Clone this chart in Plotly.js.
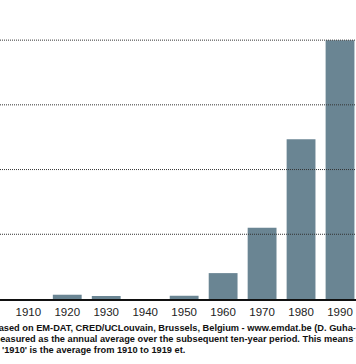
<!DOCTYPE html>
<html>
<head>
<meta charset="utf-8">
<script src="https://cdn.plot.ly/plotly-3.0.1.min.js"></script>
<style>html,body{margin:0;padding:0;background:#fff;}#chart{width:356px;height:364px;}</style>
</head>
<body>
<div id="chart"></div>
<script>
// Data (units = one gridline step)
const decades = [1910, 1920, 1930, 1940, 1950, 1960, 1970, 1980, 1990];
const values  = [0, 0.066, 0.046, 0, 0.05, 0.40, 1.10, 2.47, 4.0];
const tickLabels = ['1910','1920','1930','1940','1950','1960','1970','1980','1990'];
const gridValues = [1, 2, 3, 4];
const sourceLines = [
  "Based on EM-DAT, CRED/UCLouvain, Brussels, Belgium - www.emdat.be (D. Guha-Sapir)",
  "measured as the annual average over the subsequent ten-year period. This means that the figure for",
  "'1910' is the average from 1910 to 1919 et."
];

const font = 'Liberation Sans, Arial, Helvetica, sans-serif';

const trace = {
  type: 'bar',
  x: decades,
  y: values,
  width: 7.4,
  marker: {color: '#6a8593', line: {width: 0}},
  hoverinfo: 'none'
};

const shapes = gridValues.map(v => ({
  type: 'line', xref: 'paper', yref: 'y', x0: 0, x1: 1, y0: v, y1: v,
  layer: 'above',
  line: {color: '#333333', width: 1, dash: '1px,1px'}
}));

const shifts = [[-10.5, -29], [-10, -40], [-0.5, -51]];
const annotations = sourceLines.map((t, i) => ({
  xref: 'paper', yref: 'paper', x: 0, y: 0,
  xanchor: 'left', yanchor: 'middle',
  xshift: shifts[i][0], yshift: shifts[i][1],
  text: '<b>' + t + '</b>', showarrow: false, align: 'left',
  font: {family: font, size: 9.25, color: '#111'}
}));

const layout = {
  width: 356, height: 364,
  margin: {l: 0, r: 0, t: 0, b: 65, pad: 0},
  paper_bgcolor: '#ffffff', plot_bgcolor: '#ffffff',
  showlegend: false,
  xaxis: {
    range: [1902.74, 1994.1],
    tickvals: decades, ticktext: tickLabels,
    showgrid: false, zeroline: false,
    showline: true, linecolor: '#111', linewidth: 2,
    ticks: '', ticklabelstandoff: 1,
    tickfont: {family: font, size: 11.5, color: '#222'},
    fixedrange: true
  },
  yaxis: {
    range: [0, 4.62],
    showgrid: false, zeroline: false, showticklabels: false,
    ticks: '', fixedrange: true
  },
  shapes: shapes,
  annotations: annotations
};

Plotly.newPlot('chart', [trace], layout, {displayModeBar: false, staticPlot: true});
</script>
</body>
</html>
